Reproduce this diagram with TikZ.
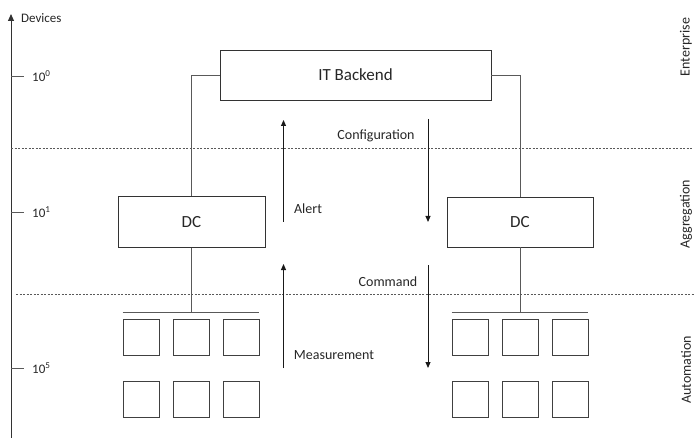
\documentclass[tikz,border=0pt]{standalone}
\usepackage{fontspec}
\setmainfont{Carlito}
\usetikzlibrary{arrows.meta}
\definecolor{txt}{HTML}{262626}
\definecolor{ln}{HTML}{595959}
\tikzset{
  box/.style={draw=black!80, line width=0.9pt, inner sep=0pt, font=\fontsize{17}{20}\selectfont, text=txt},
  dev/.style={draw=black!75, line width=0.9pt, minimum width=36pt, minimum height=36pt, inner sep=0pt},
  conn/.style={draw=ln, line width=0.8pt},
  flow/.style={draw=black!90, line width=1pt, -{Triangle[length=6pt,width=5pt]}},
  lbl/.style={font=\fontsize{14}{16}\selectfont, text=txt, inner sep=0pt},
  tick/.style={font=\fontsize{13}{15}\selectfont, text=txt, inner sep=0pt, anchor=west},
  sep/.style={draw=ln, line width=0.7pt, dash pattern=on 2pt off 1.5pt},
}
\begin{document}
\begin{tikzpicture}[x=1pt,y=-1pt]
\useasboundingbox (0,0) rectangle (695,438);
% axis
\coordinate (ax0) at (11,438);
\coordinate (ax1) at (11,14);
\draw[draw=black!80, line width=1pt, -{Triangle[length=7pt,width=6pt]}] (ax0) -- (ax1);
\node[lbl, anchor=west, font=\fontsize{13}{15}\selectfont] (devices) at (21,18) {Devices};
\foreach \yy/\ex/\nm in {76/0/a,212/1/b,368/5/c}{
  \coordinate (t\nm0) at (11,\yy);
  \coordinate (t\nm1) at (24,\yy);
  \draw[conn] (t\nm0) -- (t\nm1);
  \node[tick] (tl\nm) at (32,\yy) {10\textsuperscript{\ex}};
}
% separators
\coordinate (s1a) at (11,148); \coordinate (s1b) at (692,148);
\coordinate (s2a) at (16,294); \coordinate (s2b) at (695,294);
\draw[sep] (s1a) -- (s1b);
\draw[sep] (s2a) -- (s2b);
% layer labels
\node[lbl, rotate=90] (ent) at (686,47) {Enterprise};
\node[lbl, rotate=90] (agg) at (686,214) {Aggregation};
\node[lbl, rotate=90] (aut) at (686,370) {Automation};
% boxes
\node[box, minimum width=271pt, minimum height=50pt] (it) at (355.5,75) {IT Backend};
\node[box, minimum width=147pt, minimum height=51pt] (dcl) at (191.5,222) {DC};
\node[box, minimum width=146pt, minimum height=50pt] (dcr) at (520,222) {DC};
\draw[conn] (it.west) -| (dcl.north);
\draw[conn] (it.east) -| (dcr.north);
% devices
\foreach \xx/\i in {141/1,191/2,241/3}{
  \node[dev] (l1\i) at (\xx,337) {};
  \node[dev] (l2\i) at (\xx,399) {};
}
\foreach \xx/\i in {470/1,520/2,570/3}{
  \node[dev] (r1\i) at (\xx,337) {};
  \node[dev] (r2\i) at (\xx,399) {};
}
\coordinate (busl) at (191.5,312);
\coordinate (busr) at (520,312);
\draw[conn] (dcl.south) -- (busl);
\draw[conn] (dcr.south) -- (busr);
\draw[conn] (l11.north west |- busl) -- (l13.north east |- busl);
\draw[conn] (r11.north west |- busr) -- (r13.north east |- busr);
% flows
\coordinate (u1a) at (283.5,222); \coordinate (u1b) at (283.5,120);
\coordinate (d1a) at (428,119); \coordinate (d1b) at (428,222);
\coordinate (u2a) at (283.5,368); \coordinate (u2b) at (283.5,264);
\coordinate (d2a) at (428,265); \coordinate (d2b) at (428,368);
\draw[flow] (u1a) -- (u1b);
\draw[flow] (d1a) -- (d1b);
\draw[flow] (u2a) -- (u2b);
\draw[flow] (d2a) -- (d2b);
\node[lbl] (conf) at (376,136) {Configuration};
\node[lbl] (alert) at (308,209) {Alert};
\node[lbl] (cmd) at (388,282) {Command};
\node[lbl] (meas) at (334,355) {Measurement};
\end{tikzpicture}
\end{document}
